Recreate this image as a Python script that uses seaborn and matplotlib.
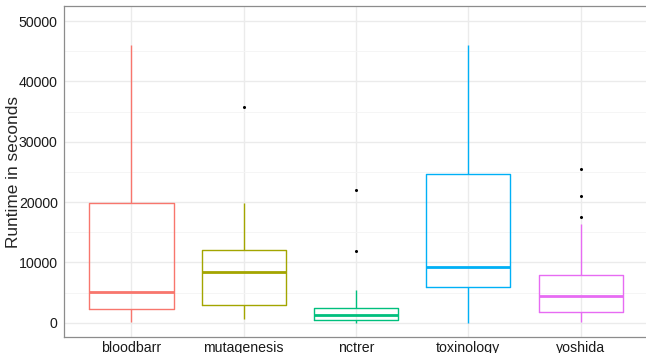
import pandas as pd
import seaborn as sns
import matplotlib.pyplot as plt
from matplotlib.ticker import MultipleLocator

# runtimes (seconds), one list per dataset
bloodbarr = [170, 2320, 5090, 19900, 46050]
mutagenesis = [660, 1800, 2880, 6000, 8460, 10300, 12100, 19900, 35800]
nctrer = [0, 200, 400, 430, 800, 1000, 1280, 1600, 2000, 2420, 5400, 11940, 22000]
toxinology = [0, 5870, 9290, 24660, 46050]
yoshida = [60, 500, 900, 1300, 1720, 2500, 3300, 4000, 4480, 5400, 6300, 7200, 7900, 16300, 17450, 21010, 25440]

datasets = ["bloodbarr", "mutagenesis", "nctrer", "toxinology", "yoshida"]
colors = ["#F8766D", "#A3A500", "#00BF7D", "#00B0F6", "#E76BF3"]

rows = []
for name, vals in zip(datasets, [bloodbarr, mutagenesis, nctrer, toxinology, yoshida]):
    for v in vals:
        rows.append((name, v))
df = pd.DataFrame(rows, columns=["dataset", "runtime"])

sns.set_style("white")
plt.rcParams["font.family"] = ["Liberation Sans", "DejaVu Sans"]

fig = plt.figure(figsize=(6.46, 3.53), dpi=100)
ax = fig.add_axes([64 / 646, 16 / 353, 584 / 646, 331 / 353])

sns.boxplot(data=df, x="dataset", y="runtime", hue="dataset", order=datasets,
            palette=colors, fill=False, width=0.75, linewidth=1.0,
            showcaps=False, legend=False, ax=ax,
            medianprops={"linewidth": 2.0},
            flierprops={"marker": "o", "markersize": 1.2,
                        "markerfacecolor": "black", "markeredgecolor": "black"})

ax.set_xlim(-0.6, 4.6)
ax.set_ylim(-2370, 52500)
ax.yaxis.set_major_locator(MultipleLocator(10000))
ax.yaxis.set_minor_locator(MultipleLocator(5000))
ax.set_axisbelow(True)
ax.grid(True, which="major", color="#EBEBEB", linewidth=1.0)
ax.yaxis.grid(True, which="minor", color="#F4F4F4", linewidth=0.6)

for s in ax.spines.values():
    s.set_color("#8C8C8C")
    s.set_linewidth(0.9)

ax.tick_params(axis="both", which="major", length=2.5, width=0.8, color="#333333",
               labelsize=10.2, labelcolor="#1A1A1A", pad=2)
ax.tick_params(axis="x", which="major", pad=0.5)
ax.tick_params(axis="y", which="minor", length=0)
ax.set_xlabel("")
ax.set_ylabel("Runtime in seconds", fontsize=12.4)
ax.yaxis.set_label_coords(-43 / 584, 0.5)

fig.savefig("out.png", dpi=100)
